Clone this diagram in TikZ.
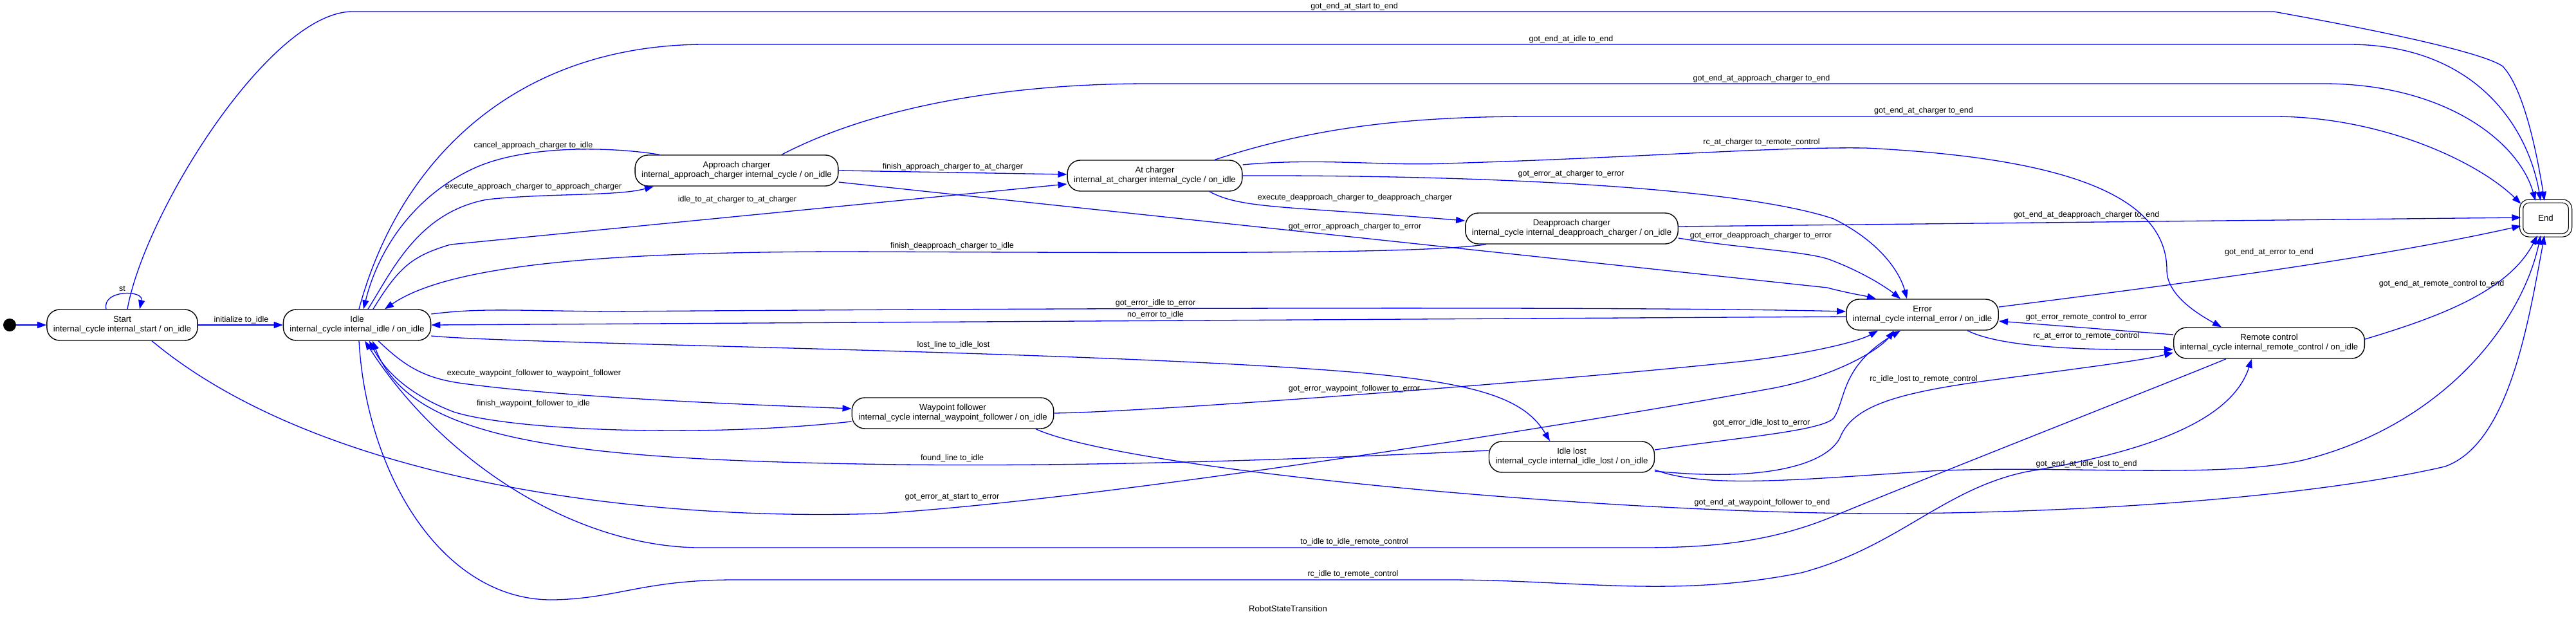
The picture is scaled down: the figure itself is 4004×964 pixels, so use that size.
\documentclass[tikz,border=0pt]{standalone}
\usepackage{fontspec}
\setmainfont{Liberation Sans}
\usetikzlibrary{arrows.meta,calc}
\begin{document}
\begin{tikzpicture}[x=1pt,y=-1pt,>={Triangle[length=14pt,width=10pt]},
  state/.style={draw,line width=1.4pt,fill=white,rounded corners=20pt,minimum height=48pt,inner xsep=10pt,align=center,font=\fontsize{13.2}{15}\selectfont},
  tr/.style={->,blue,line width=1.3pt},
  lbl/.style={text=black,inner sep=0pt,font=\fontsize{12.5}{14}\selectfont}]
\useasboundingbox (0,0) rectangle (4004,964);
\node[circle,fill=black,minimum size=20pt,inner sep=0pt] (init) at (15,505) {};
\node[state] (start) at (190,505) {Start\\internal\_cycle internal\_start / on\_idle};
\node[state] (idle) at (555,505) {Idle\\internal\_cycle internal\_idle / on\_idle};
\node[state] (appr) at (1145,265) {Approach charger\\internal\_approach\_charger internal\_cycle / on\_idle};
\node[state] (atch) at (1795,273) {At charger\\internal\_at\_charger internal\_cycle / on\_idle};
\node[state] (deap) at (2443,355) {Deapproach charger\\internal\_cycle internal\_deapproach\_charger / on\_idle};
\node[state] (err) at (2988,489) {Error\\internal\_cycle internal\_error / on\_idle};
\node[state] (rc) at (3527,533) {Remote control\\internal\_cycle internal\_remote\_control / on\_idle};
\node[state] (wpf) at (1481,642) {Waypoint follower\\internal\_cycle internal\_waypoint\_follower / on\_idle};
\node[state] (lost) at (2443,710) {Idle lost\\internal\_cycle internal\_idle\_lost / on\_idle};
\node[state,double,double distance=4pt,line width=1.2pt,minimum width=76pt,minimum height=53pt,rounded corners=12pt,inner xsep=0pt] (endn) at (3957,339) {End};
\node[font=\fontsize{13}{15}\selectfont] (title) at (2002,946) {RobotStateTransition};

\draw[tr] (init) -- (start);
\draw[tr] ([xshift=-25pt]start.north) .. controls (158,450) and (224,450) .. ([xshift=27pt]start.north) node[lbl] (l1) at (190,449) {st};
\draw[tr] (start) -- (idle) node[lbl] (l2) at (375,497) {initialize to\_idle};
\draw[tr] ([xshift=8pt]start.north) .. controls (225,330) and (420,18) .. (548,18) -- (3534,18) .. controls (3600,30) and (3850,75) .. (3890,103) .. controls (3925,140) and (3945,250) .. ([xshift=-2pt]endn.north) node[lbl] (l3) at (2105,10) {got\_end\_at\_start to\_end};
\draw[tr] ([xshift=3pt]idle.north) .. controls (620,250) and (800,69) .. (1097,69) -- (3650,69) .. controls (3850,69) and (3930,200) .. ([xshift=-8pt]endn.north) node[lbl] (l4) at (2442,61) {got\_end\_at\_idle to\_end};
\draw[tr] ([xshift=70pt]appr.north) .. controls (1350,170) and (1550,130) .. (1786,130) -- (3611,130) .. controls (3800,130) and (3915,220) .. ([xshift=-16pt]endn.north) node[lbl] (l5) at (2738,122) {got\_end\_at\_approach\_charger to\_end};
\draw[tr] ([xshift=93pt]atch.north) .. controls (2050,195) and (2200,181) .. (2384,181) -- (3534,181) .. controls (3700,181) and (3850,250) .. (endn.150) node[lbl] (l6) at (2990,172) {got\_end\_at\_charger to\_end};
\draw[tr] ($(atch.east)+(0,-17)$) .. controls (2050,245) and (2150,258) .. (2246,254) .. controls (2550,245) and (2750,228) .. (2900,230) .. controls (3200,245) and (3368,300) .. (3368,420) .. controls (3368,460) and (3420,490) .. ([xshift=-74pt]rc.north) node[lbl] (l7) at (2738,221) {rc\_at\_charger to\_remote\_control};
\draw[tr] (atch.east) .. controls (2300,272) and (2700,290) .. (2850,340) .. controls (2930,380) and (2955,430) .. ([xshift=-24pt]err.north) node[lbl] (l8) at (2442,270) {got\_error\_at\_charger to\_error};
\draw[tr] ([xshift=85pt]atch.south) .. controls (1930,325) and (2000,320) .. ($(deap.west)+(0,-12)$) node[lbl] (l9) at (2106,307) {execute\_deapproach\_charger to\_deapproach\_charger};
\draw[tr] (appr.east) -- ($(atch.west)+(0,-2)$) node[lbl] (l10) at (1481,259) {finish\_approach\_charger to\_at\_charger};
\draw[tr] ([xshift=25pt]idle.north) .. controls (620,415) and (640,398) .. (700,380) -- ($(atch.west)+(0,13)$) node[lbl] (l11) at (1146,310) {idle\_to\_at\_charger to\_at\_charger};
\draw[tr] ([xshift=17pt]idle.north) .. controls (610,420) and (650,330) .. (757,310) .. controls (850,300) and (960,305) .. ([xshift=-129pt]appr.south) node[lbl] (l12) at (829,290) {execute\_approach\_charger to\_approach\_charger};
\draw[tr] ([xshift=-120pt]appr.north) .. controls (950,228) and (820,225) .. (740,260) .. controls (650,300) and (590,380) .. ([xshift=10pt]idle.north) node[lbl] (l13) at (829,226) {cancel\_approach\_charger to\_idle};
\draw[tr] ($(appr.east)+(0,18)$) -- (2840,447) .. controls (2870,455) and (2900,460) .. ([xshift=-72pt]err.north) node[lbl] (l14) at (2106,352) {got\_error\_approach\_charger to\_error};
\draw[tr] ($(deap.east)+(0,-3)$) -- ($(endn.west)+(0,-1)$) node[lbl] (l15) at (3243,334) {got\_end\_at\_deapproach\_charger to\_end};
\draw[tr] ($(deap.east)+(0,15)$) .. controls (2700,385) and (2800,390) .. (2840,402) .. controls (2890,420) and (2930,445) .. ([xshift=-34pt]err.north) node[lbl] (l16) at (2737,366) {got\_error\_deapproach\_charger to\_error};
\draw[tr] ([xshift=-133pt]deap.south) .. controls (2200,397) and (1700,392) .. (1300,391) .. controls (950,392) and (700,410) .. ([xshift=43pt]idle.north) node[lbl] (l17) at (1480,382) {finish\_deapproach\_charger to\_idle};
\draw[tr] ($(idle.east)+(0,-17)$) .. controls (750,478) and (800,483) .. (950,484) .. controls (1500,480) and (2500,475) .. ($(err.west)+(0,-5)$) node[lbl] (l18) at (1796,471) {got\_error\_idle to\_error};
\draw[tr] ($(err.west)+(0,3)$) -- (idle.east) node[lbl] (l19) at (1796,489) {no\_error to\_idle};
\draw[tr] ($(idle.east)+(0,17)$) .. controls (800,535) and (1700,545) .. (2100,578) .. controls (2300,595) and (2370,620) .. ([xshift=-34pt]lost.north) node[lbl] (l20) at (1482,536) {lost\_line to\_idle\_lost};
\draw[tr] ($(lost.west)+(0,-10)$) .. controls (2000,715) and (1700,725) .. (1400,722) .. controls (900,715) and (640,690) .. ([xshift=24pt]idle.south) node[lbl] (l21) at (1480,712) {found\_line to\_idle};
\draw[tr] ([xshift=33pt]idle.south) .. controls (630,570) and (660,588) .. (720,596) .. controls (900,620) and (1200,630) .. ($(wpf.west)+(0,-7)$) node[lbl] (l22) at (830,580) {execute\_waypoint\_follower to\_waypoint\_follower};
\draw[tr] ($(wpf.west)+(0,13)$) .. controls (1100,680) and (800,670) .. (705,640) .. controls (640,615) and (600,580) .. ([xshift=19pt]idle.south) node[lbl] (l23) at (829,627) {finish\_waypoint\_follower to\_idle};
\draw[tr] (wpf.east) .. controls (1800,640) and (2500,585) .. (2721,560) .. controls (2820,548) and (2890,530) .. ([xshift=-69pt]err.south) node[lbl] (l24) at (2105,604) {got\_error\_waypoint\_follower to\_error};
\draw[tr] ([xshift=129pt]wpf.south) .. controls (1750,730) and (2500,800) .. (2950,798) .. controls (3350,795) and (3650,760) .. (3800,725) .. controls (3900,690) and (3930,500) .. ([xshift=-2pt]endn.south) node[lbl] (l25) at (2739,781) {got\_end\_at\_waypoint\_follower to\_end};
\draw[tr] ([xshift=46pt]start.south) .. controls (500,750) and (1000,810) .. (1365,798) .. controls (1730,776) and (2500,650) .. (2757,603) .. controls (2850,585) and (2920,545) .. ([xshift=-44pt]err.south) node[lbl] (l26) at (1480,773) {got\_error\_at\_start to\_error};
\draw[tr] ([xshift=-67pt]rc.south) .. controls (3420,575) and (3000,740) .. (2855,800) .. controls (2750,845) and (2650,851) .. (2550,851) -- (1100,851) .. controls (900,855) and (690,720) .. ([xshift=12pt]idle.south) node[lbl] (l27) at (2105,842) {to\_idle to\_idle\_remote\_control};
\draw[tr] ([xshift=3pt]idle.south) .. controls (570,740) and (690,935) .. (861,932) .. controls (960,930) and (1000,901) .. (1142,901) -- (2250,901) .. controls (2450,901) and (2600,930) .. (2800,890) .. controls (2950,850) and (3020,760) .. (3150,733) .. controls (3350,700) and (3470,650) .. ([xshift=-27pt]rc.south) node[lbl] (l28) at (2103,892) {rc\_idle to\_remote\_control};
\draw[tr] ($(lost.east)+(0,-11)$) .. controls (2700,680) and (2830,670) .. (2850,650) .. controls (2870,620) and (2860,570) .. ([xshift=-34pt]err.south) node[lbl] (l29) at (2738,657) {got\_error\_idle\_lost to\_error};
\draw[tr] ($(lost.east)+(0,22)$) .. controls (2750,750) and (2840,720) .. (2860,680) .. controls (2880,630) and (2950,610) .. (3100,590) .. controls (3250,570) and (3330,560) .. ($(rc.west)+(0,15)$) node[lbl] (l30) at (2990,589) {rc\_idle\_lost to\_remote\_control};
\draw[tr] ($(lost.east)+(0,20)$) .. controls (2650,760) and (2800,745) .. (3000,732) .. controls (3200,722) and (3450,745) .. (3580,715) .. controls (3800,660) and (3920,500) .. ([xshift=-8pt]endn.south) node[lbl] (l31) at (3243,721) {got\_end\_at\_idle\_lost to\_end};
\draw[tr] ($(err.east)+(0,-12)$) .. controls (3400,440) and (3700,400) .. ($(endn.west)+(0,12)$) node[lbl] (l32) at (3527,392) {got\_end\_at\_error to\_end};
\draw[tr] ([xshift=70pt]err.south) .. controls (3100,535) and (3200,545) .. ($(rc.west)+(0,10)$) node[lbl] (l33) at (3243,522) {rc\_at\_error to\_remote\_control};
\draw[tr] ($(rc.west)+(0,-13)$) -- ($(err.east)+(0,10)$) node[lbl] (l34) at (3243,493) {got\_error\_remote\_control to\_error};
\draw[tr] ($(rc.east)+(0,-6)$) .. controls (3800,490) and (3900,450) .. ([xshift=-13pt]endn.south) node[lbl] (l35) at (3795,441) {got\_end\_at\_remote\_control to\_end};
\end{tikzpicture}
\end{document}
